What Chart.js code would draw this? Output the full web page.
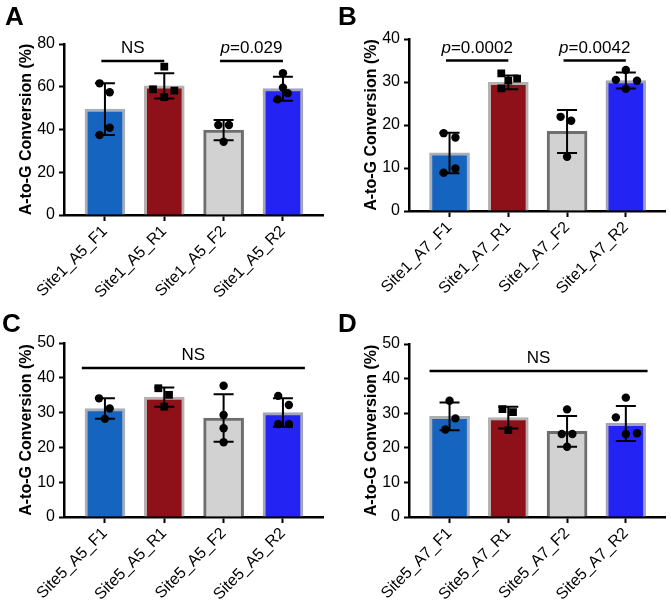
<!DOCTYPE html>
<html>
<head>
<meta charset="utf-8">
<script src="https://cdn.jsdelivr.net/npm/chart.js@4.4.1/dist/chart.umd.min.js"></script>
<style>
body { margin: 0; background: #fff; }
#wrap { position: relative; width: 671px; height: 604px; }
canvas { position: absolute; }
</style>
</head>
<body>
<div id="wrap">
  <canvas id="cA" width="335" height="300" style="left:0;top:0"></canvas>
  <canvas id="cB" width="336" height="300" style="left:335px;top:0"></canvas>
  <canvas id="cC" width="335" height="304" style="left:0;top:300px"></canvas>
  <canvas id="cD" width="336" height="304" style="left:335px;top:300px"></canvas>
</div>
<script>
// categories
const labelsA = ['Site1_A5_F1', 'Site1_A5_R1', 'Site1_A5_F2', 'Site1_A5_R2'];
const labelsB = ['Site1_A7_F1', 'Site1_A7_R1', 'Site1_A7_F2', 'Site1_A7_R2'];
const labelsC = ['Site5_A5_F1', 'Site5_A5_R1', 'Site5_A5_F2', 'Site5_A5_R2'];
const labelsD = ['Site5_A7_F1', 'Site5_A7_R1', 'Site5_A7_F2', 'Site5_A7_R2'];

// bar heights (mean) and error (SD)
const meanA = [49.5, 60.4, 39.7, 59.1];
const sdA = [12.1, 5.9, 4.7, 5.6];
const meanB = [13.5, 29.9, 18.5, 30.35];
const sdB = [4.7, 1.6, 5.0, 1.85];
const meanC = [31.15, 34.45, 28.45, 30.0];
const sdC = [2.95, 2.75, 6.85, 4.1];
const meanD = [29.1, 28.75, 24.75, 27.05];
const sdD = [4.0, 3.15, 4.45, 5.05];

// individual replicates
const pointsA = [[61.6, 57.4, 40.8, 37.4], [69.4, 58.8, 58.2, 55.1], [42.1, 42.1, 34.3], [66.3, 59.6, 57, 54.1]];
const pointsB = [[18.1, 17.1, 9.9, 8.9], [32, 30.8, 30.3, 28.5], [21.9, 21, 12.6], [32.8, 30.5, 30.3, 28.4]];
const pointsC = [[34.1, 31.2, 28.2], [37, 35.1, 31.7], [37.7, 29.3, 25.5, 21.5], [34.8, 32.2, 26.7, 26.7]];
const pointsD = [[33.6, 28.5, 25.3], [31.2, 30.3, 25.1], [31.1, 24, 24, 20.3], [34.5, 28.8, 24, 24.2]];

// y axis ticks
const ticksA = [0, 20, 40, 60, 80];
const ticksB = [0, 10, 20, 30, 40];
const ticksCD = [0, 10, 20, 30, 40, 50];

// significance labels
const sigA = [{from: 0, to: 1, y: 72, text: 'NS'}, {from: 2, to: 3, y: 72, p: '0.029'}];
const sigB = [{from: 0, to: 1, y: 35, p: '0.0002'}, {from: 2, to: 3, y: 35, p: '0.0042'}];
const sigC = [{from: -0.33, to: 3.37, y: 42.8, text: 'NS'}];
const sigD = [{from: -0.28, to: 3.37, y: 42.2, text: 'NS'}];

// horizontal scatter of the dots (category units)
const jitterA = [[-0.09, 0.08, 0.08, -0.09], [0, -0.19, 0.17, 0], [-0.09, 0.09, 0], [0, 0, 0.08, -0.09]];
const jitterB = [[-0.1, 0.1, 0.1, -0.1], [-0.12, 0.15, 0, -0.12], [-0.11, 0.07, 0], [0, -0.17, 0.19, 0]];
const jitterC = [[-0.1, 0.08, 0], [-0.1, 0.08, 0], [0, 0, 0, 0], [-0.08, 0.1, -0.08, 0.1]];
const jitterD = [[0, 0.1, -0.07], [-0.1, 0.08, 0], [0, -0.09, 0.09, 0], [0, -0.17, 0, 0.19]];

const fills = ['#1565C0', '#8E1119', '#D2D2D2', '#2323F3'];
const edges = ['#A8AFB8', '#B8B0B0', '#6E6E6E', '#A4A4BC'];
const FONT = 'Arial, "Liberation Sans", sans-serif';

function extras(p) {
  return {
    id: 'extras',
    afterDatasetDraw(chart, args) {
      if (args.index !== 0) return;
      const xs = chart.scales.x, ys = chart.scales.y, ctx = chart.ctx;
      ctx.save();
      ctx.strokeStyle = '#000';
      ctx.lineWidth = 2;
      p.means.forEach((m, i) => {
        const x = xs.getPixelForValue(i);
        const top = ys.getPixelForValue(m + p.sds[i]);
        const bot = ys.getPixelForValue(m - p.sds[i]);
        ctx.beginPath();
        ctx.moveTo(x, top); ctx.lineTo(x, bot);
        ctx.moveTo(x - 10, top); ctx.lineTo(x + 10, top);
        ctx.moveTo(x - 10, bot); ctx.lineTo(x + 10, bot);
        ctx.stroke();
      });
      ctx.restore();
    },
    afterDraw(chart) {
      const xs = chart.scales.x, ys = chart.scales.y, ctx = chart.ctx;
      ctx.save();
      ctx.fillStyle = '#000';
      ctx.font = 'bold 26px ' + FONT;
      ctx.textAlign = 'left';
      ctx.textBaseline = 'alphabetic';
      ctx.fillText(p.letter, p.letterX, p.letterY);

      p.sig.forEach(s => {
        const x1 = xs.getPixelForValue(s.from - 0.06);
        const x2 = xs.getPixelForValue(s.to);
        const y = ys.getPixelForValue(s.y);
        ctx.strokeStyle = '#000';
        ctx.lineWidth = 2.5;
        ctx.beginPath();
        ctx.moveTo(x1, y); ctx.lineTo(x2, y);
        ctx.stroke();
        const cx = (x1 + x2) / 2, ty = y - 8;
        ctx.textAlign = 'left';
        if (s.text) {
          ctx.font = '17px ' + FONT;
          const w = ctx.measureText(s.text).width;
          ctx.fillText(s.text, cx - w / 2, ty);
        } else {
          ctx.font = 'italic 17px ' + FONT;
          const w1 = ctx.measureText('p').width;
          ctx.font = '17px ' + FONT;
          const rest = '=' + s.p;
          const w2 = ctx.measureText(rest).width;
          const x0 = cx - (w1 + w2) / 2;
          ctx.font = 'italic 17px ' + FONT;
          ctx.fillText('p', x0, ty);
          ctx.font = '17px ' + FONT;
          ctx.fillText(rest, x0 + w1, ty);
        }
      });
      ctx.restore();
    }
  };
}

function makePanel(id, p) {
  const pts = [], styles = [], radii = [];
  p.points.forEach((arr, i) => arr.forEach((v, k) => {
    pts.push({x: i + p.jitter[i][k], y: v});
    styles.push(i === 1 ? 'rect' : 'circle');
    radii.push(i === 1 ? 5.5 : 4.2);
  }));

  new Chart(document.getElementById(id), {
    type: 'bar',
    data: {
      datasets: [{
        type: 'bar',
        data: p.means.map((v, i) => ({x: i, y: v})),
        backgroundColor: fills,
        borderColor: edges,
        borderWidth: 3,
        borderSkipped: 'start',
        barThickness: 40,
        order: 2
      }, {
        type: 'scatter',
        data: pts,
        pointStyle: styles,
        pointRadius: radii,
        backgroundColor: '#000',
        borderColor: '#000',
        borderWidth: 0,
        order: 1
      }]
    },
    options: {
      responsive: false,
      animation: false,
      events: [],
      layout: {padding: {left: p.padLeft, top: p.padTop, right: p.padRight, bottom: 0}},
      plugins: {legend: {display: false}, tooltip: {enabled: false}},
      scales: {
        x: {
          type: 'linear',
          offset: false,
          min: -0.69,
          max: 3.675,
          afterBuildTicks: s => { s.ticks = [0, 1, 2, 3].map(v => ({value: v})); },
          afterFit: s => { s.height = p.xHeight; },
          ticks: {
            autoSkip: false,
            includeBounds: false,
            minRotation: 45,
            maxRotation: 45,
            padding: 1,
            color: '#000',
            font: {family: FONT, size: 16},
            callback: v => p.labels[v]
          },
          grid: {offset: false, drawOnChartArea: false, drawTicks: true, tickLength: 6, tickWidth: 2, tickColor: '#000'},
          border: {display: true, color: '#000', width: 2.5}
        },
        y: {
          min: 0,
          max: p.yTicks[p.yTicks.length - 1],
          afterBuildTicks: s => { s.ticks = p.yTicks.map(v => ({value: v})); },
          afterFit: s => { s.width = 51; },
          ticks: {color: '#000', padding: 4, font: {family: FONT, size: 16}},
          title: {
            display: true,
            text: 'A-to-G Conversion (%)',
            color: '#000',
            font: {family: FONT, size: 16, weight: 'bold'},
            padding: {top: 4, bottom: 0}
          },
          grid: {drawOnChartArea: false, drawTicks: true, tickLength: 5, tickWidth: 2, tickColor: '#000'},
          border: {display: true, color: '#000', width: 2.5}
        }
      }
    },
    plugins: [extras(p)]
  });
}

makePanel('cA', {letter: 'A', letterX: 5, letterY: 25, labels: labelsA, means: meanA, sds: sdA,
  points: pointsA, jitter: jitterA, sig: sigA, yTicks: ticksA,
  padLeft: 13, padTop: 44, padRight: 12, xHeight: 85});
makePanel('cB', {letter: 'B', letterX: 3, letterY: 25, labels: labelsB, means: meanB, sds: sdB,
  points: pointsB, jitter: jitterB, sig: sigB, yTicks: ticksB,
  padLeft: 23, padTop: 39, padRight: 3, xHeight: 89});
makePanel('cC', {letter: 'C', letterX: 2, letterY: 32, labels: labelsC, means: meanC, sds: sdC,
  points: pointsC, jitter: jitterC, sig: sigC, yTicks: ticksCD,
  padLeft: 13, padTop: 43, padRight: 12, xHeight: 87});
makePanel('cD', {letter: 'D', letterX: 3, letterY: 32, labels: labelsD, means: meanD, sds: sdD,
  points: pointsD, jitter: jitterD, sig: sigD, yTicks: ticksCD,
  padLeft: 23, padTop: 44, padRight: 3, xHeight: 87});
</script>
</body>
</html>
